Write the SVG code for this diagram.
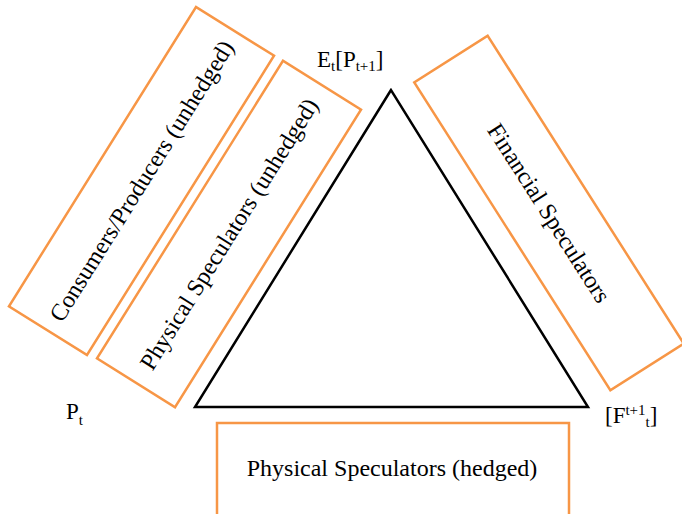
<svg xmlns="http://www.w3.org/2000/svg" width="682" height="514" viewBox="0 0 682 514">
<style>
.box{fill:none;stroke:#F79646;stroke-width:2.5}
.lbl{font-family:"Liberation Serif","Times New Roman",serif;font-size:24px;fill:#000}
.math{font-family:"Liberation Serif","Times New Roman",serif;font-size:23px;fill:#000}
.sub{font-size:15px}
.edge{fill:none;stroke:#000;stroke-width:2.5;stroke-linejoin:miter}
</style>
<rect width="682" height="514" fill="#fff"/>
<g id="connectors">
<polygon class="edge" points="391,90 195,407 588,407"/>
</g>
<g id="consumers-producers" transform="translate(141.5,181) rotate(-58)">
<rect class="box" x="-176.5" y="-46" width="353" height="92"/>
<text class="lbl" x="0" y="0" text-anchor="middle" dominant-baseline="central">Consumers/Producers (unhedged)</text>
</g>
<g id="physical-unhedged" transform="translate(229,234) rotate(-58)">
<rect class="box" x="-175.5" y="-46" width="351" height="92"/>
<text class="lbl" x="0" y="0" text-anchor="middle" dominant-baseline="central">Physical Speculators (unhedged)</text>
</g>
<g id="financial" transform="translate(549,213) rotate(57.5)">
<rect class="box" x="-182.5" y="-43.5" width="365" height="87"/>
<text class="lbl" x="0" y="0" text-anchor="middle" dominant-baseline="central">Financial Speculators</text>
</g>
<g id="physical-hedged">
<rect class="box" x="217" y="423" width="352" height="100"/>
<text class="lbl" x="392" y="476" text-anchor="middle">Physical Speculators (hedged)</text>
</g>
<g id="label-expected">
<text class="math" x="317" y="67">E<tspan class="sub" dy="4">t</tspan><tspan dy="-4">[P</tspan><tspan class="sub" dy="4">t+1</tspan><tspan dy="-4">]</tspan></text>
</g>
<g id="label-spot">
<text class="math" x="66" y="419">P<tspan class="sub" dy="6">t</tspan></text>
</g>
<g id="label-futures">
<text class="math" x="605" y="423">[F<tspan class="sub" dy="-8">t+1</tspan><tspan class="sub" dy="12">t</tspan><tspan dy="-4">]</tspan></text>
</g>
</svg>
